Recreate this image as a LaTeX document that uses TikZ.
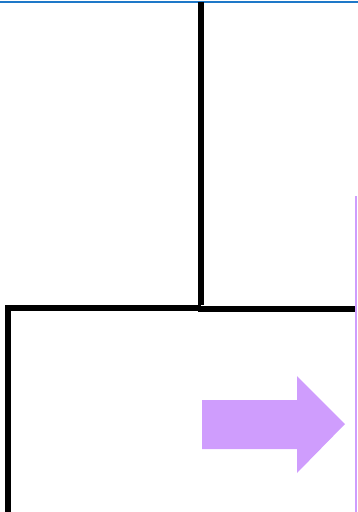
\documentclass[tikz,border=0pt]{standalone}
\definecolor{wallblue}{RGB}{30,120,200}
\definecolor{lilac}{RGB}{207,157,253}
\tikzset{wall/.style={line width=6pt,line cap=rect},
	edge/.style={wallblue,line width=2pt}}
\begin{document}
\begin{tikzpicture}[x=1pt,y=-1pt,line join=miter]
		\useasboundingbox (0,0) rectangle (358,512);
		\coordinate (T) at (201,2);
		\coordinate (J) at (201,305);
		\coordinate (L) at (8,308);
		\coordinate (R) at (356,309);
		\coordinate (Lb) at (8,515);
		\coordinate (Pt) at (356,196);
		\coordinate (Pb) at (356,515);
		\draw[edge] (0,1.5)--(358,1.5);
		\draw[wall,line cap=butt] (T)--(J);
		\draw[wall,line cap=butt] (Lb)--(L)--(201,308);
		\draw[wall,line cap=butt] (198,309)--(R);
		\draw[lilac,line width=2pt] (Pt)--(Pb);
		\fill[lilac] (202,400)--(297,400)--(297,376)--(345,424)--(297,473)--(297,449)--(202,449)--cycle;
	\end{tikzpicture}
\end{document}
